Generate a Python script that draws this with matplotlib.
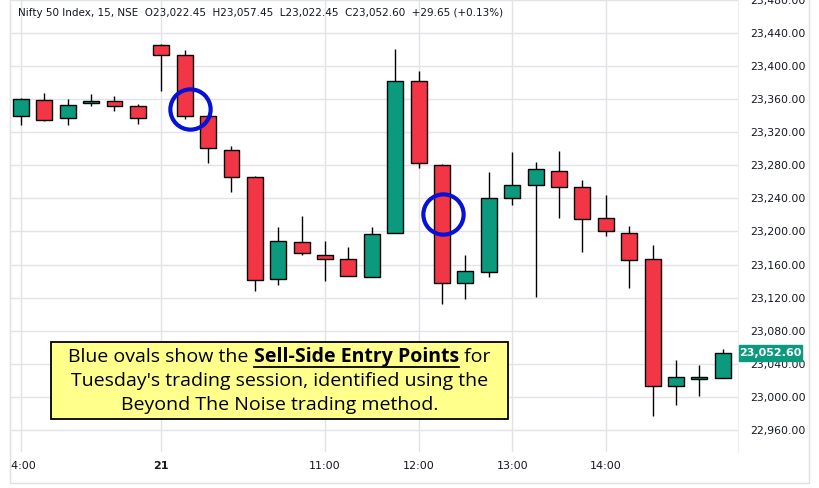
import numpy as np
import matplotlib.pyplot as plt
from matplotlib.patches import Rectangle
from matplotlib.lines import Line2D
from matplotlib.transforms import Bbox

# Nifty 50, 15 min Kerzen (20. 14:00 bis 21. 15:15)
opens = [23340.2, 23359.5, 23337.3, 23355.0, 23357.5, 23352.3, 23426.0, 23414.0, 23340.0, 23299.0,
         23266.5, 23142.0, 23186.7, 23171.0, 23166.2, 23144.4, 23197.6, 23382.5, 23281.0, 23138.3,
         23151.6, 23240.0, 23256.8, 23273.7, 23254.3, 23216.8, 23197.6, 23166.2, 23012.7, 23021.2,
         23022.45]
closes = [23360.0, 23335.3, 23353.5, 23357.5, 23351.8, 23337.3, 23414.0, 23340.2, 23301.5, 23266.5,
          23140.8, 23188.0, 23173.4, 23166.2, 23145.6, 23196.4, 23382.5, 23283.4, 23137.2, 23152.8,
          23240.0, 23256.8, 23275.0, 23254.3, 23215.6, 23200.0, 23165.0, 23012.7, 23023.6, 23023.6,
          23052.6]
highs = [23361.0, 23367.5, 23360.0, 23366.0, 23363.5, 23353.8, 23427.0, 23420.0, 23341.0, 23304.0,
         23267.0, 23205.0, 23218.8, 23188.6, 23181.0, 23205.6, 23421.0, 23393.7, 23281.5, 23171.4,
         23271.7, 23295.8, 23283.7, 23297.0, 23262.0, 23244.7, 23207.2, 23183.4, 23044.0, 23038.0,
         23057.45]
lows = [23328.5, 23333.7, 23328.5, 23351.4, 23345.7, 23329.7, 23370.0, 23336.0, 23283.0, 23248.0,
        23128.2, 23135.0, 23171.4, 23140.3, 23145.6, 23144.4, 23197.6, 23276.9, 23112.5, 23117.8,
        23145.0, 23231.8, 23121.0, 23216.4, 23175.0, 23194.7, 23132.0, 22977.0, 22990.0, 23000.6,
        23022.45]

tick_idx = [0, 6, 13, 17, 21, 25]
tick_labels = ['14:00', '21', '11:00', '12:00', '13:00', '14:00']
price_ticks = list(range(22960, 23481, 40))

# blaue Kreise (Einstiegspunkte)
oval_idx = [7.23, 18.05]
oval_price = [23347.7, 23221.0]

last_price = 23052.6
header = 'Nifty 50 Index, 15, NSE  O23,022.45  H23,057.45  L23,022.45  C23,052.60  +29.65 (+0.13%)'

green = '#0c9a7e'
red = '#f23645'
grid_c = '#e2e3e8'
txt_c = '#131722'

W, H = 820, 488
fig = plt.figure(figsize=(W / 100, H / 100), dpi=100)
ax = fig.add_axes([10 / W, (H - 452) / H, 728 / W, 452 / H])

x = np.arange(len(opens))
o = np.array(opens)
c = np.array(closes)
cols = [green if cc >= oo else red for oo, cc in zip(o, c)]

ax.vlines(x, lows, highs, color='black', lw=1.0, zorder=2)
ax.bar(x, np.maximum(np.abs(c - o), 1.2), bottom=np.minimum(o, c), width=0.68,
       color=cols, edgecolor='black', linewidth=1.0, zorder=3)

# Kreise
ax.plot(oval_idx, oval_price, 'o', ms=29, mfc='none', mec='#0612d6', mew=3.0, zorder=5)

ax.set_xlim(-0.466, 30.65)
ax.set_ylim(22933.3, 23479.5)

ax.set_yticks(price_ticks)
ax.set_xticks(tick_idx)
ax.set_xticklabels([])
ax.yaxis.tick_right()
ax.set_yticklabels(['{:,.2f}'.format(p) for p in price_ticks], color=txt_c, fontsize=7.8)
ax.tick_params(axis='y', length=0, pad=9)
ax.tick_params(axis='x', length=0)
ax.grid(True, color=grid_c, lw=1.0)
ax.set_axisbelow(True)
for s in ax.spines.values():
    s.set_visible(False)

# Zeitachse (links abgeschnitten)
clip = Bbox.from_extents(10, 0, 738, H)
for i, lab in zip(tick_idx, tick_labels):
    t = ax.text(i, -14 / 452, lab, transform=ax.get_xaxis_transform(), ha='center', va='center',
                fontsize=8, color=txt_c, fontweight='bold' if lab == '21' else 'normal',
                clip_on=True)
    t.set_clip_box(clip)

# Rahmen
fig.add_artist(Rectangle((10 / W, 5 / H), 799 / W, 1.2, transform=fig.transFigure,
                         fill=False, ec='#e0e0e0', lw=1.0))
fig.add_artist(Line2D([738 / W, 738 / W], [(H - 452) / H, 1], transform=fig.transFigure,
                      color='#eeeeee', lw=0.8))

# Kopfzeile
fig.text(18 / W, 1 - 13 / H, header, fontsize=7.5, color=txt_c, va='center', ha='left')

# aktueller Kurs
ypix = ax.transData.transform((0, last_price))[1]
fig.add_artist(Rectangle((739 / W, (ypix - 8) / H), 63 / W, 16 / H, transform=fig.transFigure,
                         color=green, zorder=10))
fig.text(770.5 / W, ypix / H, '{:,.2f}'.format(last_price), color='white', fontsize=8,
         fontweight='bold', ha='center', va='center', zorder=11)

# Textbox
bx0, bx1, by0, by1 = 50.7, 508.3, 342.3, 419.0
fig.add_artist(Rectangle((bx0 / W, (H - by1) / H), (bx1 - bx0) / W, (by1 - by0) / H,
                         transform=fig.transFigure, fc='#ffff8c', ec='black', lw=1.3, zorder=20))
cx = (bx0 + bx1) / 2
fam = 'Open Sans'
fs = 14
renderer = fig.canvas.get_renderer()

parts = [('Blue ovals show the ', 'normal'), ('Sell-Side Entry Points', 'bold'), (' for', 'normal')]
y1 = H - 357.3
texts = []
for s, w in parts:
    t = fig.text(0, y1 / H, s, fontsize=fs, family=fam, fontweight=w, color='black',
                 va='center', ha='left', zorder=21)
    texts.append(t)
widths = [t.get_window_extent(renderer).width for t in texts]
xs = cx - sum(widths) / 2
for t, wd in zip(texts, widths):
    t.set_x(xs / W)
    if t.get_fontweight() == 'bold':
        fig.add_artist(Line2D([xs / W, (xs + wd) / W], [(y1 - 9.5) / H, (y1 - 9.5) / H],
                              transform=fig.transFigure, color='black', lw=1.3, zorder=21))
    xs += wd

fig.text(cx / W, (H - 381) / H, "Tuesday's trading session, identified using the",
         fontsize=fs, family=fam, color='black', ha='center', va='center', zorder=21)
fig.text(cx / W, (H - 405) / H, 'Beyond The Noise trading method.',
         fontsize=fs, family=fam, color='black', ha='center', va='center', zorder=21)

fig.savefig('out.png', dpi=100)
